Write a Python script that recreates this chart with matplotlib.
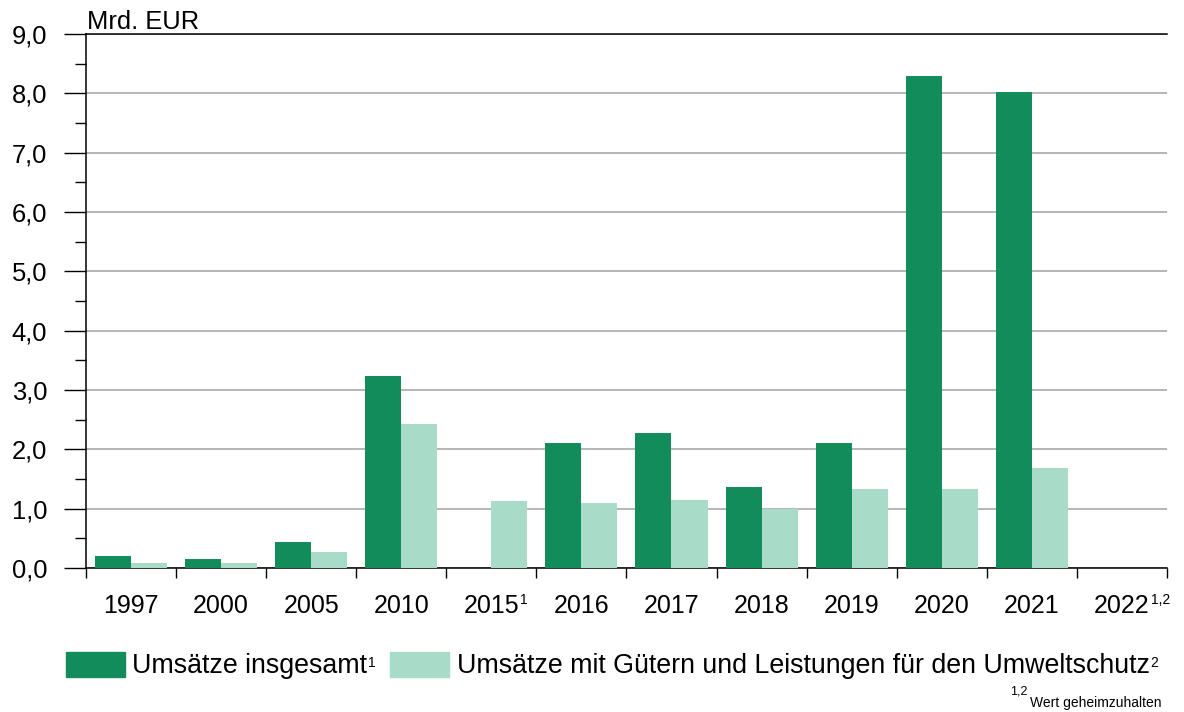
import matplotlib
matplotlib.use("Agg")
from matplotlib import pyplot as plt
from matplotlib.patches import Patch
from matplotlib.ticker import MultipleLocator, FuncFormatter
import numpy as np

plt.rcParams["font.family"] = ["Liberation Sans", "DejaVu Sans"]

# data (Mrd. EUR)
years = ["1997", "2000", "2005", "2010", "2015", "2016", "2017",
         "2018", "2019", "2020", "2021", "2022"]
year_notes = ["", "", "", "", "1", "", "", "", "", "", "", "1,2"]
umsatz_gesamt = [0.20, 0.15, 0.44, 3.24, np.nan, 2.10, 2.27,
                 1.37, 2.10, 8.29, 8.02, np.nan]
umsatz_umwelt = [0.09, 0.08, 0.27, 2.42, 1.13, 1.09, 1.14,
                 1.00, 1.33, 1.33, 1.68, np.nan]
legend_labels = ["Umsätze insgesamt",
                 "Umsätze mit Gütern und Leistungen für den Umweltschutz"]
legend_notes = ["1", "2"]

dark = "#118c5a"
light = "#a9dbc9"
DPI = 100
px = DPI / 72.0  # pixels per point

fig = plt.figure(figsize=(11.84, 7.12), dpi=DPI)
ax = fig.add_axes([0.0726, 0.2022, 0.9130, 0.7500])

x = np.arange(len(years))
w = 0.4
ax.bar(x + 0.1, umsatz_gesamt, width=w, align="edge", color=dark, zorder=3)
ax.bar(x + 0.5, umsatz_umwelt, width=w, align="edge", color=light, zorder=3)

ax.set_xlim(0, len(years))
ax.set_ylim(0, 9)

# y axis
ax.yaxis.set_major_locator(MultipleLocator(1))
ax.yaxis.set_minor_locator(MultipleLocator(0.5))
ax.yaxis.set_major_formatter(FuncFormatter(lambda v, p: f"{v:.1f}".replace(".", ",")))
ax.tick_params(axis="y", which="major", length=16, width=1, labelsize=18.4, pad=12)
ax.tick_params(axis="y", which="minor", length=8, width=1)
ax.yaxis.grid(True, which="major", color="#b0b0b0", linewidth=1.3)
ax.set_axisbelow(True)

# x axis: ticks on slot borders, labels in slot centers
tick_fs = 18
tick_pad = 32.5
ax.set_xticks(np.arange(len(years) + 1))
ax.set_xticklabels([])
ax.set_xticks(x + 0.5, minor=True)
ax.set_xticklabels(years, minor=True)
ax.tick_params(axis="x", which="major", length=7, width=1)
ax.tick_params(axis="x", which="minor", length=0, labelsize=tick_fs, pad=tick_pad)
for lbl in ax.get_xticklabels(minor=True):
    lbl.set_verticalalignment("baseline")

ax.spines["right"].set_visible(False)
for s in ["left", "bottom", "top"]:
    ax.spines[s].set_linewidth(1.1)

fig.text(87 / 1184, 1 - 29 / 712, "Mrd. EUR", fontsize=18.4, va="baseline", ha="left")

leg_fs = 19.3
handles = [Patch(color=dark, label=legend_labels[0]),
           Patch(color=light, label=legend_labels[1])]
leg = fig.legend(handles=handles, loc="center left", bbox_to_anchor=(66 / 1184, 1 - 665.5 / 712),
                 ncol=2, frameon=False, fontsize=leg_fs, handlelength=2.2, handleheight=1.08,
                 handletextpad=0.28, columnspacing=0.85, borderaxespad=0, borderpad=0)

fig.canvas.draw()
inv = fig.transFigure.inverted()


def sup(x_disp, base_disp, text, fs, ha="left"):
    xf, yf = inv.transform((x_disp, base_disp))
    fig.text(xf, yf, text, fontsize=fs, ha=ha, va="baseline")


# superscripts on tick labels
axis_y = ax.transAxes.transform((0, 0))[1]
base = axis_y - tick_pad * px
for lbl, note in zip(ax.get_xticklabels(minor=True), year_notes):
    if note:
        bb = lbl.get_window_extent()
        sup(bb.x1 + 1, base + 9, note, 10)

# superscripts in legend
for t, note in zip(leg.get_texts(), legend_notes):
    bb = t.get_window_extent()
    tbase = bb.y0 + 0.21 * leg_fs * px
    sup(bb.x1 + 1, tbase + 7, note, 10)

# footnote
foot = fig.text(1162 / 1184, 1 - 707 / 712, "Wert geheimzuhalten", fontsize=10,
                ha="right", va="baseline")
fig.canvas.draw()
fb = foot.get_window_extent()
sup(fb.x0 - 3, 712 - 695, "1,2", 9, ha="right")

fig.savefig("out.png", dpi=DPI)
